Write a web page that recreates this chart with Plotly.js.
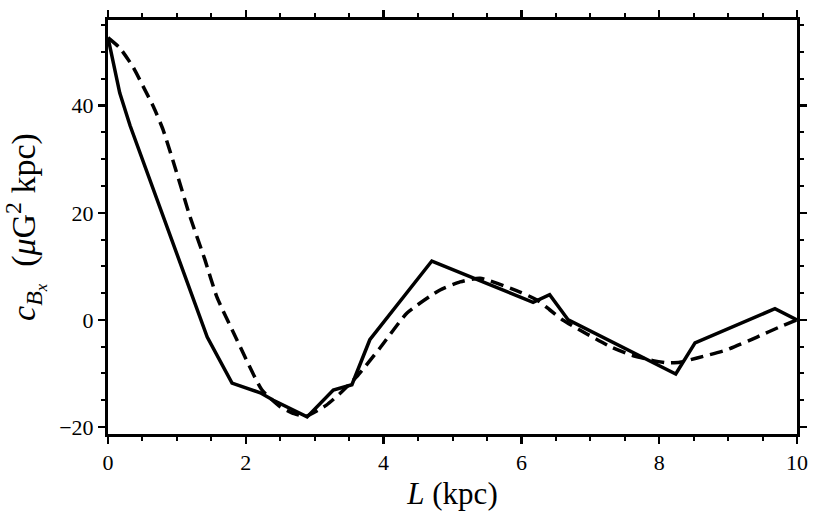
<!DOCTYPE html>
<html>
<head>
<meta charset="utf-8">
<script src="https://cdn.plot.ly/plotly-3.0.1.min.js"></script>
<style>
html,body{margin:0;padding:0;background:#fff;}
#chart{width:831px;height:513px;}
</style>
</head>
<body>
<div id="chart"></div>
<script>
// Solid curve
var solidL = [0, 0.08, 0.17, 0.32, 1.44, 1.80, 2.21, 2.40, 2.89, 3.27, 3.54, 3.80, 4.70, 6.17, 6.41, 6.68, 8.24, 8.52, 9.68, 10];
var solidC = [52.7, 47.5, 42.4, 36.3, -3.2, -11.8, -13.6, -15.0, -18.1, -13.1, -12.1, -3.7, 11.0, 3.3, 4.7, 0.0, -10.1, -4.3, 2.1, 0.0];

// Dashed curve
var dashedL = [0, 0.17, 0.36, 0.51, 0.66, 0.80, 0.97, 1.19, 1.40, 1.58, 1.87, 2.23, 2.50, 2.70, 2.87, 3.17, 3.37, 3.61, 3.95, 4.34, 4.82, 5.11, 5.40, 5.98, 6.23, 6.41, 6.60, 7.29, 7.58, 7.91, 8.10, 8.30, 8.55, 8.98, 9.42, 9.75, 10];
var dashedC = [52.7, 50.8, 47.3, 43.6, 39.8, 35.5, 28.6, 19.3, 11.5, 4.3, -3.7, -13.0, -16.2, -17.5, -18.0, -15.9, -13.7, -10.6, -5.2, 1.3, 5.6, 7.1, 7.8, 5.2, 3.7, 1.9, 0.0, -5.0, -6.5, -7.6, -8.0, -7.9, -7.1, -5.6, -3.2, -1.3, 0.0];

var xTicks = [0, 2, 4, 6, 8, 10];
var yTicks = [-20, 0, 20, 40];

var traces = [
  {x: dashedL, y: dashedC, type: 'scatter', mode: 'lines',
   line: {color: '#000', width: 3.5, dash: '13px,7px', shape: 'spline', smoothing: 0.5},
   hoverinfo: 'skip', showlegend: false},
  {x: solidL, y: solidC, type: 'scatter', mode: 'lines',
   line: {color: '#000', width: 3.5},
   hoverinfo: 'skip', showlegend: false}
];

var tickFont = {family: 'Liberation Serif, DejaVu Serif, serif', size: 22, color: '#000'};
var xTitleFont = {family: 'Liberation Serif, DejaVu Serif, serif', size: 31, color: '#000'};
var yTitleFont = {family: 'Liberation Serif, DejaVu Serif, serif', size: 34, color: '#000'};

var axisCommon = {
  showline: true, linecolor: '#000', linewidth: 3, mirror: 'allticks',
  ticks: 'outside', ticklen: 7, tickwidth: 2.5, tickcolor: '#000',
  showgrid: false, zeroline: false, tickfont: tickFont
};

var layout = {
  width: 831, height: 513,
  margin: {l: 108, r: 34, t: 20, b: 79},
  paper_bgcolor: '#fff', plot_bgcolor: '#fff',
  xaxis: Object.assign({}, axisCommon, {
    range: [0, 10], tickmode: 'array', tickvals: xTicks, ticktext: xTicks.map(String),
    minor: {dtick: 0.5, ticks: 'outside', ticklen: 4, tickwidth: 2, tickcolor: '#000', showgrid: false},
    title: {text: '<i>L</i> (kpc)', font: xTitleFont, standoff: 8}
  }),
  yaxis: Object.assign({}, axisCommon, {
    range: [-21.3, 56], tickmode: 'array', tickvals: yTicks,
    ticktext: yTicks.map(function(v){ return v < 0 ? '\u2212' + Math.abs(v) : String(v); }),
    minor: {dtick: 5, ticks: 'outside', ticklen: 4, tickwidth: 2, tickcolor: '#000', showgrid: false},
    title: {text: '<i>c</i><sub><i>B<sub>x</sub></i></sub>  (<i>\u03bc</i>G<sup>2</sup> kpc)', font: yTitleFont, standoff: 18}
  })
};

Plotly.newPlot('chart', traces, layout, {staticPlot: true, displayModeBar: false});
</script>
</body>
</html>
